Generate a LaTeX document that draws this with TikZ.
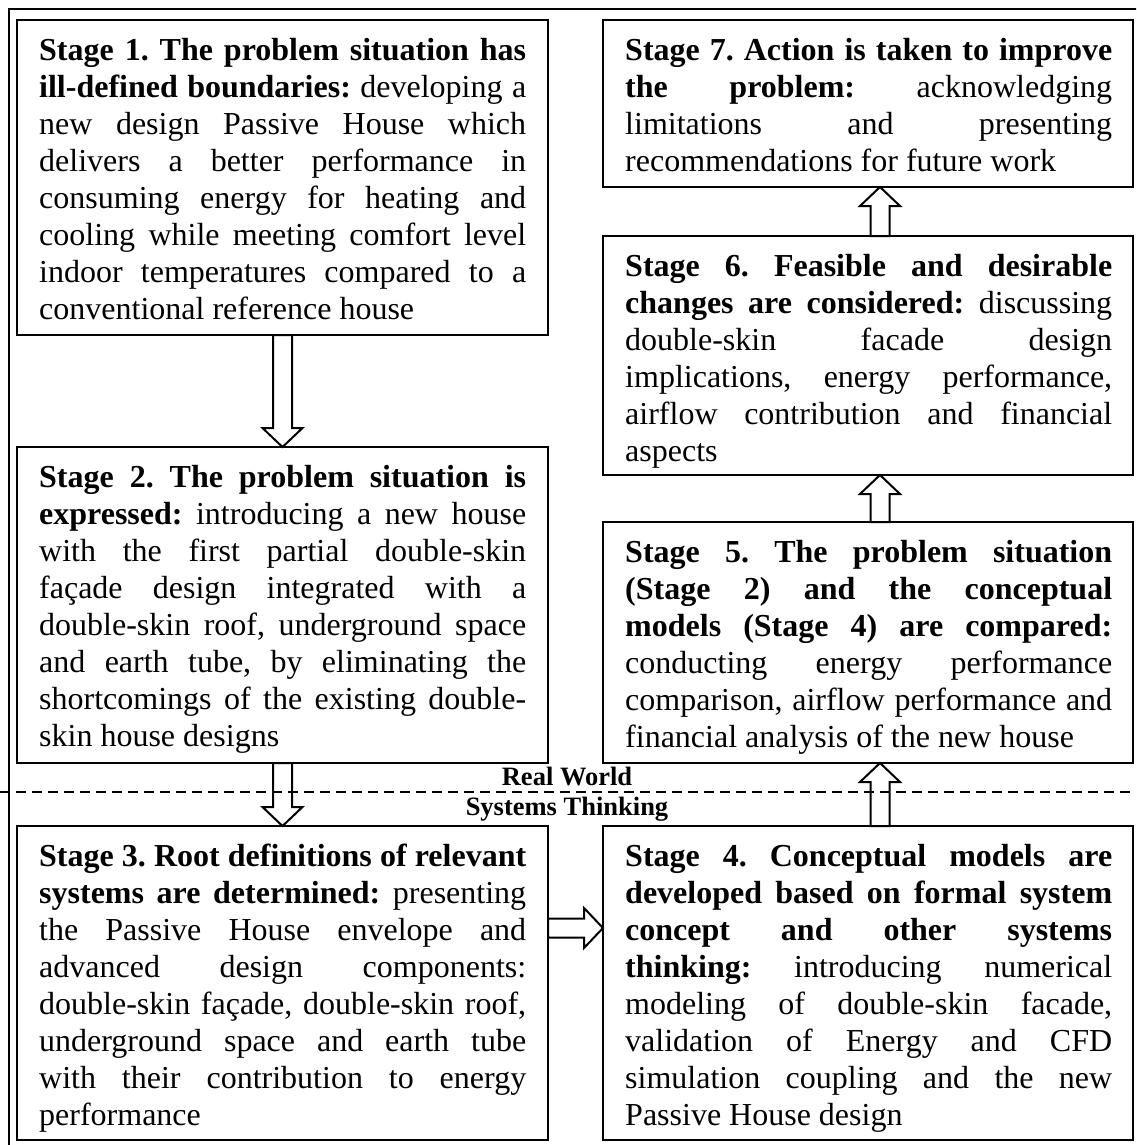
\documentclass[tikz,border=0pt]{standalone}
\usepackage{fontspec}
\setmainfont{Liberation Serif}
\usetikzlibrary{calc}
\newlength\tw
\setlength\tw{487pt}
\newcommand\jl[1]{\makebox[\tw][s]{\spaceskip=0pt\xspaceskip=0pt\frenchspacing\strut#1}\\}
\newcommand\lastl[1]{\makebox[\tw][l]{\spaceskip=0pt\xspaceskip=0pt\frenchspacing\strut#1}}
\newcommand\blockarr[2]{%
  \coordinate (ah) at ($(#2)!19pt!(#1)$);
  \draw[barrow] ($(#1)!9.5pt!90:(#2)$) -- ($(ah)!9.5pt!90:(#2)$) -- ($(ah)!20pt!90:(#2)$) -- (#2)
    -- ($(ah)!20pt!-90:(#2)$) -- ($(ah)!9.5pt!-90:(#2)$) -- ($(#1)!9.5pt!-90:(#2)$) -- cycle;}
\begin{document}
\begin{tikzpicture}[x=1pt,y=-1pt,
  box/.style={draw, line width=2pt, rectangle, inner sep=0pt, outer sep=0pt, anchor=north west},
  txt/.style={inner sep=0pt, anchor=north west, text width=\tw, align=left, font=\fontsize{32}{37}\selectfont},
  barrow/.style={draw, line width=2pt, line join=miter},
  lbl/.style={font=\fontsize{26.5}{30}\selectfont\bfseries, inner sep=0pt, anchor=base},
  outerframe/.style={line width=1.5pt},
  worldline/.style={line width=2pt, dash pattern=on 10pt off 6pt}]
\clip (0,0) rectangle (1136,1145);
\fill[white] (0,0) rectangle (1136,1145);
\draw[outerframe] (9,9) rectangle (1150,1160);

% boxes
\node[box, minimum width=531pt, minimum height=315pt] (b1) at (17,20) {};
\node[box, minimum width=531pt, minimum height=316pt] (b2) at (17,447) {};
\node[box, minimum width=531pt, minimum height=314pt] (b3) at (17,826) {};
\node[box, minimum width=530pt, minimum height=314pt] (b4) at (603,826) {};
\node[box, minimum width=530pt, minimum height=241pt] (b5) at (603,522) {};
\node[box, minimum width=530pt, minimum height=239pt] (b6) at (603,236) {};
\node[box, minimum width=530pt, minimum height=167pt] (b7) at (603,20) {};

% texts
\node[txt] (t1) at ($(b1.north west)+(22,14)$) {%
\jl{\textbf{Stage 1. The problem situation has}}
\jl{\textbf{ill-defined boundaries:} developing a}
\jl{new design Passive House which}
\jl{delivers a better performance in}
\jl{consuming energy for heating and}
\jl{cooling while meeting comfort level}
\jl{indoor temperatures compared to a}
\lastl{conventional reference house}};

\node[txt] (t2) at ($(b2.north west)+(22,14)$) {%
\jl{\textbf{Stage 2. The problem situation is}}
\jl{\textbf{expressed:} introducing a new house}
\jl{with the first partial double-skin}
\jl{façade design integrated with a}
\jl{double-skin roof, underground space}
\jl{and earth tube, by eliminating the}
\jl{shortcomings of the existing double-}
\lastl{skin house designs}};

\node[txt] (t3) at ($(b3.north west)+(22,14)$) {%
\jl{\textbf{Stage 3. Root definitions of relevant}}
\jl{\textbf{systems are determined:} presenting}
\jl{the Passive House envelope and}
\jl{advanced design components:}
\jl{double-skin façade, double-skin roof,}
\jl{underground space and earth tube}
\jl{with their contribution to energy}
\lastl{performance}};

\node[txt] (t4) at ($(b4.north west)+(22,14)$) {%
\jl{\textbf{Stage 4. Conceptual models are}}
\jl{\textbf{developed based on formal system}}
\jl{\textbf{concept and other systems}}
\jl{\textbf{thinking:} introducing numerical}
\jl{modeling of double-skin facade,}
\jl{validation of Energy and CFD}
\jl{simulation coupling and the new}
\lastl{Passive House design}};

\node[txt] (t5) at ($(b5.north west)+(22,14)$) {%
\jl{\textbf{Stage 5. The problem situation}}
\jl{\textbf{(Stage 2) and the conceptual}}
\jl{\textbf{models (Stage 4) are compared:}}
\jl{conducting energy performance}
\jl{comparison, airflow performance and}
\lastl{financial analysis of the new house}};

\node[txt] (t6) at ($(b6.north west)+(22,14)$) {%
\jl{\textbf{Stage 6. Feasible and desirable}}
\jl{\textbf{changes are considered:} discussing}
\jl{double-skin facade design}
\jl{implications, energy performance,}
\jl{airflow contribution and financial}
\lastl{aspects}};

\node[txt] (t7) at ($(b7.north west)+(22,14)$) {%
\jl{\textbf{Stage 7. Action is taken to improve}}
\jl{\textbf{the problem:} acknowledging}
\jl{limitations and presenting}
\lastl{recommendations for future work}};

% separator line and labels
\coordinate (dl) at (0,792);
\coordinate (dr) at (1136,792);
\draw[worldline] (dl) -- (dr);
\node[lbl] (rw) at (567,785) {Real World};
\node[lbl] (st) at (567,815) {Systems Thinking};

% arrows
\coordinate (rcol) at (880,0);
\coordinate (mrow) at (0,928);
\coordinate (a34s) at (b3.east |- mrow);
\coordinate (a34e) at (b4.west |- mrow);
\coordinate (a45s) at (b4.north -| rcol);
\coordinate (a45e) at (b5.south -| rcol);
\coordinate (a56s) at (b5.north -| rcol);
\coordinate (a56e) at (b6.south -| rcol);
\coordinate (a67s) at (b6.north -| rcol);
\coordinate (a67e) at (b7.south -| rcol);
\blockarr{b1.south}{b2.north}
\blockarr{b2.south}{b3.north}
\blockarr{a34s}{a34e}
\blockarr{a45s}{a45e}
\blockarr{a56s}{a56e}
\blockarr{a67s}{a67e}
\end{tikzpicture}
\end{document}
